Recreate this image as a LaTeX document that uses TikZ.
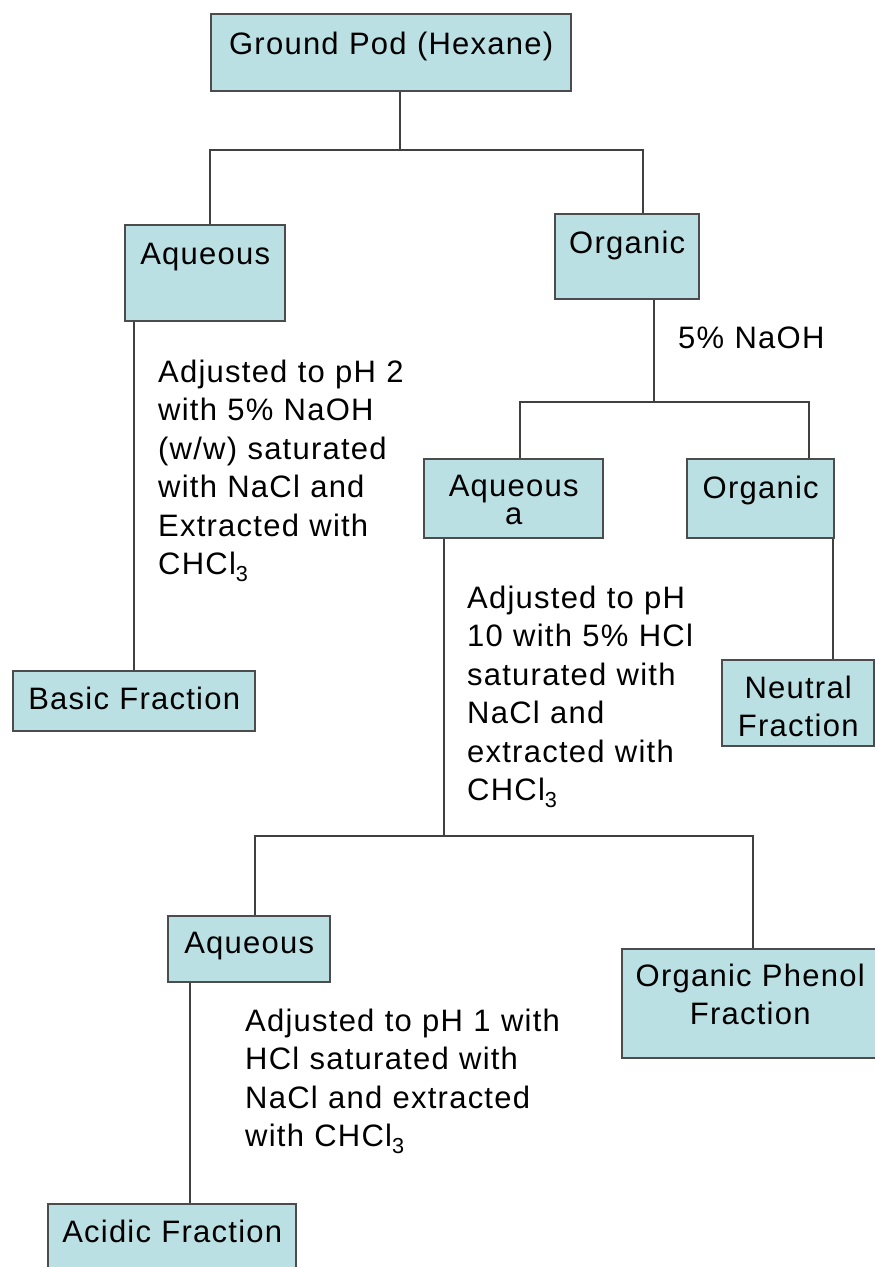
\documentclass[tikz,border=0pt]{standalone}
\usepackage{fontspec}
\setmainfont{Liberation Sans}[LetterSpace=4]
\definecolor{boxfill}{HTML}{BBE0E3}
\begin{document}
\begin{tikzpicture}[x=1pt,y=-1pt,
box/.style={
% The shape:
rectangle,
draw=black!70,
line width=2.4pt,
fill=boxfill,
anchor=north west,
inner sep=0pt,
align=center,
font=\fontsize{31}{38.5}\selectfont
},
note/.style={
anchor=base west,
inner sep=0pt,
text width=400pt,
align=left,
font=\fontsize{31}{38.5}\selectfont
},
link/.style={draw=black!75,line width=1.8pt}
]
\useasboundingbox (0,0) rectangle (875,1267);
% boxes
\node (gp) [box,text width=360pt,text height=40pt,text depth=37pt] at (210,13) {Ground Pod (Hexane)};
\node (aql) [box,text width=160pt,text height=39pt,text depth=57pt] at (124,224) {Aqueous};
\node (orgt) [box,text width=144pt,text height=39pt,text depth=46pt] at (554,213) {Organic};
\node (aqa) [box,text width=179pt,text height=37pt,text depth=42pt,font=\fontsize{31}{28}\selectfont] at (423,458) {Aqueous\\a};
\node (orgm) [box,text width=147pt,text height=39pt,text depth=40pt] at (686,458) {Organic};
\node (basic) [box,text width=242pt,text height=38pt,text depth=22pt] at (12,670) {Basic Fraction};
\node (neutral) [box,text width=152pt,text height=38pt,text depth=48pt] at (721,659) {Neutral\\Fraction};
\node (aqb) [box,text width=162pt,text height=37pt,text depth=29pt] at (167,915) {Aqueous};
\node (phenol) [box,text width=256pt,text height=37pt,text depth=72pt] at (621,948) {Organic Phenol\\Fraction};
\node (acidic) [box,text width=248pt,text height=38pt,text depth=40pt] at (47,1203) {Acidic Fraction};
% notes
\node (naoh) [note] at (678,348) {5\% NaOH};
\node (phtwo) [note] at (158,382) {Adjusted to pH 2\\with 5\% NaOH\\(w/w) saturated\\with NaCl and\\Extracted with\\CHCl\textsubscript{3}};
\node (phten) [note] at (467,608) {Adjusted to pH\\10 with 5\% HCl\\saturated with\\NaCl and\\extracted with\\CHCl\textsubscript{3}};
\node (phone) [note] at (245,1031) {Adjusted to pH 1 with\\HCl saturated with\\NaCl and extracted\\with CHCl\textsubscript{3}};
% connectors
\coordinate (gpj) at (400,150);
\coordinate (aqlj) at (210,150);
\coordinate (orgtj) at (643,150);
\draw[link] (gp.south -| gpj) -- (gpj);
\draw[link] (aql.north -| aqlj) |- (orgtj) -- (orgt.north -| orgtj);
\coordinate (aqlb) at (134,0);
\draw[link] (aql.south -| aqlb) -- (basic.north -| aqlb);
\coordinate (orgtb) at (654,402);
\coordinate (aqaj) at (520,402);
\coordinate (orgmj) at (809,402);
\draw[link] (orgt.south -| orgtb) -- (orgtb);
\draw[link] (aqa.north -| aqaj) |- (orgmj) -- (orgm.north -| orgmj);
\coordinate (orgmb) at (833,0);
\draw[link] (orgm.south -| orgmb) -- (neutral.north -| orgmb);
\coordinate (aqab) at (444,836);
\coordinate (aqbj) at (255,836);
\coordinate (phenolj) at (753,836);
\draw[link] (aqa.south -| aqab) -- (aqab);
\draw[link] (aqb.north -| aqbj) |- (phenolj) -- (phenol.north -| phenolj);
\coordinate (aqbb) at (190,0);
\draw[link] (aqb.south -| aqbb) -- (acidic.north -| aqbb);
\end{tikzpicture}
\end{document}
